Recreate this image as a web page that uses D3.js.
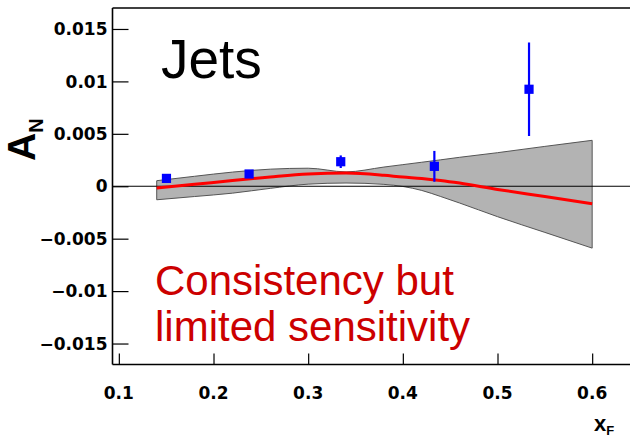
<!DOCTYPE html>
<html>
<head>
<meta charset="utf-8">
<script src="https://cdn.jsdelivr.net/npm/d3@7"></script>
<style>
  html, body { margin: 0; padding: 0; background: #fff; }
  svg { display: block; }
</style>
</head>
<body>
<svg id="chart" width="630" height="438"></svg>
<script>
// Measured jet asymmetries A_N versus x_F
const pointX   = [0.1503, 0.2376, 0.3344, 0.4333, 0.5333];
const pointY   = [0.00075, 0.00117, 0.00234, 0.0019, 0.00925];
const pointErr = [0.0003, 0.0003, 0.0006, 0.00147, 0.00446];

// Theory band (upper / lower envelope) and its central curve
const bandX     = [0.14, 0.18, 0.22, 0.26, 0.30, 0.34, 0.38, 0.40, 0.42, 0.44, 0.46, 0.50, 0.55, 0.60];
const bandUpper = [0.00053, 0.00095, 0.00135, 0.00163, 0.00172, 0.00137, 0.00183, 0.00206, 0.00229, 0.00252, 0.00276, 0.0032, 0.0038, 0.00438];
const bandLower = [-0.00129, -0.00098, -0.00066, -0.0002, 0.0002, 0.00031, 0.00018, -0.00002, -0.0004, -0.00098, -0.0016, -0.0029, -0.0044, -0.0059];
const fitCenter = [-0.00017, 0.00018, 0.00055, 0.00088, 0.00116, 0.00126, 0.00105, 0.00088, 0.00075, 0.00055, 0.0003, -0.0003, -0.00098, -0.00167];

const xTicks = [0.1, 0.2, 0.3, 0.4, 0.5, 0.6];
const yTicks = [-0.015, -0.01, -0.005, 0, 0.005, 0.01, 0.015];
const yTickLabels = ["\u22120.015", "\u22120.01", "\u22120.005", "0", "0.005", "0.01", "0.015"];

const svg = d3.select("#chart");

const x = d3.scaleLinear().domain([0.0933, 0.65]).range([112.5, 639.5]);
const y = d3.scaleLinear().domain([-0.017, 0.017]).range([364.5, 8]);

const plotLeft = x.range()[0], plotRight = 630;
const plotTop = y.range()[1], plotBottom = y.range()[0];

// Band
const band = bandX.map((v, i) => ({ x: v, lo: bandLower[i], hi: bandUpper[i], c: fitCenter[i] }));
const area = d3.area()
  .x(d => x(d.x)).y0(d => y(d.lo)).y1(d => y(d.hi))
  .curve(d3.curveMonotoneX);
svg.append("path")
  .datum(band)
  .attr("d", area)
  .attr("fill", "#b3b3b3")
  .attr("stroke", "#555")
  .attr("stroke-width", 1);

// Zero line
svg.append("line")
  .attr("x1", plotLeft).attr("x2", plotRight)
  .attr("y1", y(0)).attr("y2", y(0))
  .attr("stroke", "#000").attr("stroke-width", 1.2);

// Central curve
svg.append("path")
  .datum(band)
  .attr("d", d3.line().x(d => x(d.x)).y(d => y(d.c)).curve(d3.curveMonotoneX))
  .attr("fill", "none")
  .attr("stroke", "#ff0000")
  .attr("stroke-width", 3);

// Data points with error bars
const pts = pointX.map((v, i) => ({ x: v, y: pointY[i], e: pointErr[i] }));
const g = svg.append("g");
g.selectAll("line.err").data(pts).join("line")
  .attr("class", "err")
  .attr("x1", d => x(d.x)).attr("x2", d => x(d.x))
  .attr("y1", d => y(d.y + d.e)).attr("y2", d => y(d.y - d.e))
  .attr("stroke", "#0000ff").attr("stroke-width", 2.2);
g.selectAll("rect").data(pts).join("rect")
  .attr("x", d => x(d.x) - 4.6).attr("y", d => y(d.y) - 4.6)
  .attr("width", 9.2).attr("height", 9.2)
  .attr("fill", "#0000ff");

// Frame
const frame = svg.append("g").attr("stroke", "#000").attr("stroke-width", 1.6).attr("fill", "none");
frame.append("line").attr("x1", plotLeft).attr("x2", plotLeft).attr("y1", plotTop).attr("y2", plotBottom);
frame.append("line").attr("x1", plotLeft).attr("x2", plotRight).attr("y1", plotBottom).attr("y2", plotBottom);
frame.append("line").attr("x1", plotLeft).attr("x2", plotRight).attr("y1", plotTop).attr("y2", plotTop);

// Y axis ticks and labels
const yAxis = svg.append("g")
  .attr("transform", `translate(${plotLeft},0)`)
  .call(d3.axisRight(y).tickValues(yTicks).tickSize(16).tickFormat(""));
yAxis.select(".domain").remove();
yAxis.selectAll("line").attr("stroke", "#000").attr("stroke-width", 1.2);
svg.append("g").selectAll("text").data(yTicks).join("text")
  .attr("x", 107.5).attr("y", d => y(d))
  .attr("dy", "0.36em")
  .attr("text-anchor", "end")
  .attr("font-family", "DejaVu Sans, sans-serif")
  .attr("font-weight", "bold")
  .attr("font-size", 17)
  .attr("fill", "#000")
  .text((d, i) => yTickLabels[i]);

// X axis ticks and labels
const xAxis = svg.append("g")
  .attr("transform", `translate(0,${plotBottom})`)
  .call(d3.axisTop(x).tickValues(xTicks).tickSize(11).tickFormat(""));
xAxis.select(".domain").remove();
xAxis.selectAll("line").attr("stroke", "#000").attr("stroke-width", 1.2);
svg.append("g").selectAll("text").data(xTicks).join("text")
  .attr("x", d => x(d)).attr("y", 399)
  .attr("text-anchor", "middle")
  .attr("font-family", "DejaVu Sans, sans-serif")
  .attr("font-weight", "bold")
  .attr("font-size", 17)
  .attr("fill", "#000")
  .text(d => d3.format(".1f")(d));

// Axis titles
const yTitle = svg.append("text")
  .attr("transform", "translate(35,161) rotate(-90)")
  .attr("font-family", "Liberation Sans, Arial, sans-serif")
  .attr("font-weight", "bold")
  .attr("fill", "#000");
yTitle.append("tspan").attr("font-size", 39).text("A");
yTitle.append("tspan").attr("font-size", 20).attr("dy", 8).text("N");

const xTitle = svg.append("text")
  .attr("x", 594).attr("y", 431)
  .attr("font-family", "Liberation Sans, Arial, sans-serif")
  .attr("font-weight", "bold")
  .attr("fill", "#000");
xTitle.append("tspan").attr("font-size", 22).text("x");
xTitle.append("tspan").attr("font-size", 13).attr("dy", 4).text("F");

// Annotations
svg.append("text")
  .attr("x", 161).attr("y", 78)
  .attr("font-family", "Liberation Sans, Arial, sans-serif")
  .attr("font-size", 55)
  .attr("fill", "#000")
  .text("Jets");

const note = svg.append("text")
  .attr("font-family", "Liberation Sans, Arial, sans-serif")
  .attr("font-size", 42)
  .attr("fill", "#cc0000");
note.append("tspan").attr("x", 155).attr("y", 295).text("Consistency but");
note.append("tspan").attr("x", 155).attr("y", 341).text("limited sensitivity");
</script>
</body>
</html>
